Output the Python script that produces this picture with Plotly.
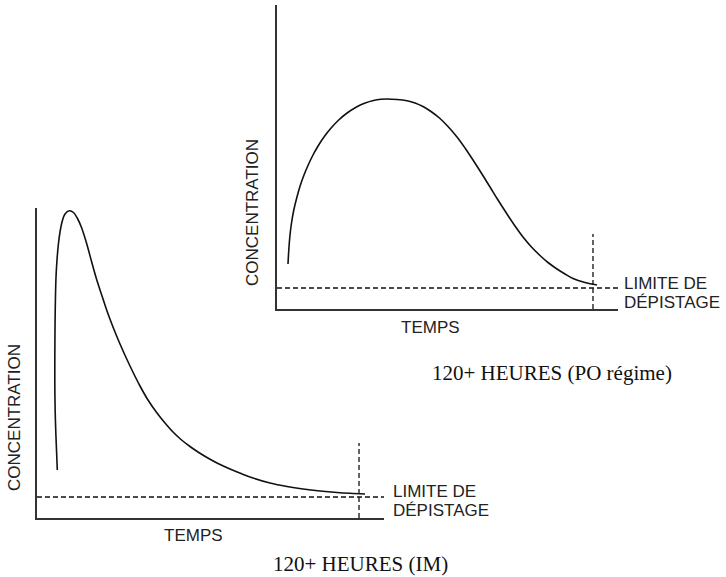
import plotly.graph_objects as go

W, H = 726, 577

# Both panels are schematic: time / concentration in arbitrary units (no ticks)

# PO regimen curve (top right panel)
po_time = [11, 11.8, 12.9, 14.5, 16.8, 19.7, 23.1, 27, 31.2, 36, 41.7, 47.7, 54.1,
           61.7, 70.1, 79.5, 88.2, 96.5, 104, 110, 120, 130, 138, 146, 154, 163,
           171, 180, 188, 196, 204, 213, 221, 230, 238, 246, 254, 263, 271, 280,
           288, 296, 308, 320]
po_conc = [45, 59, 73, 86, 99, 111, 123, 134, 144, 154, 164, 173, 181,
           189, 196, 202, 206, 208.5, 209.7, 210, 209.5, 208.2, 206, 202.5, 197.5, 190.5,
           182.5, 172, 161, 149, 136.5, 122, 109, 95, 83, 72, 62.5, 53.5, 46.5, 40,
           35, 30.5, 26.5, 24]
po_limit = 21
po_cutoff_time = 316
po_cutoff_top = 75
po_time_range = [0, 341]
po_conc_range = [0, 304]

# IM curve (bottom left panel)
im_time = [20.3, 19.3, 18.4, 17.9, 17.8, 17.9, 18.1, 18.5, 19.1, 20, 21.3, 23, 25.3,
           28, 32.3, 36.5, 40.5, 44.7, 49.5, 54.7, 59.5, 64.7, 70, 76, 83, 93, 103,
           111, 120, 128, 136, 144, 153, 161, 170, 181, 193, 204, 216, 233, 250,
           266, 283, 300, 313, 328]
im_conc = [48, 73, 98, 123, 148, 173, 198, 223, 243, 258, 273, 286, 297,
           304, 307.3, 305.5, 299.5, 290, 275, 256, 239, 223, 207, 191, 174, 152, 132,
           118, 105, 95, 86, 78.5, 71.5, 66, 60.5, 54.5, 49, 44.5, 40, 35, 31.5,
           29, 27, 25.5, 24.7, 24]
im_limit = 21
im_cutoff_time = 322
im_cutoff_top = 75
im_time_range = [0, 347]
im_conc_range = [0, 310]

LINE = "#111111"
AXIS = "#333333"
DASH = "5px,3px"
SANS = "Liberation Sans, Arial, sans-serif"
SERIF = "Liberation Serif, Times New Roman, serif"


def px_x(p):
    return p / W


def px_y(p):
    return 1 - p / H


fig = go.Figure()

for xa, ya, t, c, lim, ct, ctop, trange in [
    ("x", "y", po_time, po_conc, po_limit, po_cutoff_time, po_cutoff_top, po_time_range),
    ("x2", "y2", im_time, im_conc, im_limit, im_cutoff_time, im_cutoff_top, im_time_range),
]:
    fig.add_trace(go.Scatter(
        x=t, y=c, xaxis=xa, yaxis=ya, mode="lines",
        line=dict(color=LINE, width=1.6, shape="spline", smoothing=1.0),
        hoverinfo="skip", showlegend=False, cliponaxis=False,
    ))
    # detection limit (dashed, across the whole time axis)
    fig.add_trace(go.Scatter(
        x=trange, y=[lim, lim], xaxis=xa, yaxis=ya, mode="lines",
        line=dict(color=LINE, width=1.3, dash=DASH),
        hoverinfo="skip", showlegend=False,
    ))
    # 120+ h cutoff
    fig.add_trace(go.Scatter(
        x=[ct, ct], y=[0, ctop], xaxis=xa, yaxis=ya, mode="lines",
        line=dict(color=LINE, width=1.3, dash=DASH),
        hoverinfo="skip", showlegend=False,
    ))

ax_common = dict(showgrid=False, zeroline=False, showticklabels=False, ticks="",
                 showline=True, linecolor=AXIS, linewidth=1.5, fixedrange=True)

fig.update_layout(
    width=W, height=H,
    margin=dict(l=0, r=0, t=0, b=0),
    paper_bgcolor="white", plot_bgcolor="rgba(0,0,0,0)",
    xaxis=dict(domain=[px_x(277), px_x(618)], anchor="y", range=po_time_range, **ax_common),
    yaxis=dict(domain=[px_y(309), px_y(5)], anchor="x", range=po_conc_range, **ax_common),
    xaxis2=dict(domain=[px_x(37), px_x(384)], anchor="y2", range=im_time_range, **ax_common),
    yaxis2=dict(domain=[px_y(518), px_y(208)], anchor="x2", range=im_conc_range, **ax_common),
)

label_font = dict(family=SANS, size=17, color="#222222")
caption_font = dict(family=SERIF, size=21, color="#111111")

texts = [
    # (text, x px, y px, xanchor, angle, font)
    ("CONCENTRATION", 252, 213, "center", -90, label_font),
    ("TEMPS", 430, 327, "center", 0, label_font),
    ("LIMITE DE", 622, 283, "left", 0, label_font),
    ("DÉPISTAGE", 622, 302, "left", 0, label_font),
    ("120+ HEURES (PO régime)", 552, 373, "center", 0, caption_font),
    ("CONCENTRATION", 14, 418, "center", -90, label_font),
    ("TEMPS", 194, 535, "center", 0, label_font),
    ("LIMITE DE", 391, 491, "left", 0, label_font),
    ("DÉPISTAGE", 391, 510, "left", 0, label_font),
    ("120+ HEURES (IM)", 360, 564, "center", 0, caption_font),
]
for txt, x, y, anchor, angle, font in texts:
    fig.add_annotation(
        text=txt, x=px_x(x), y=px_y(y), xref="paper", yref="paper",
        xanchor=anchor, yanchor="middle", textangle=angle,
        showarrow=False, font=font,
    )

fig.write_html("out.html", config={"displayModeBar": False},
               post_script="document.body.style.margin='0';")
